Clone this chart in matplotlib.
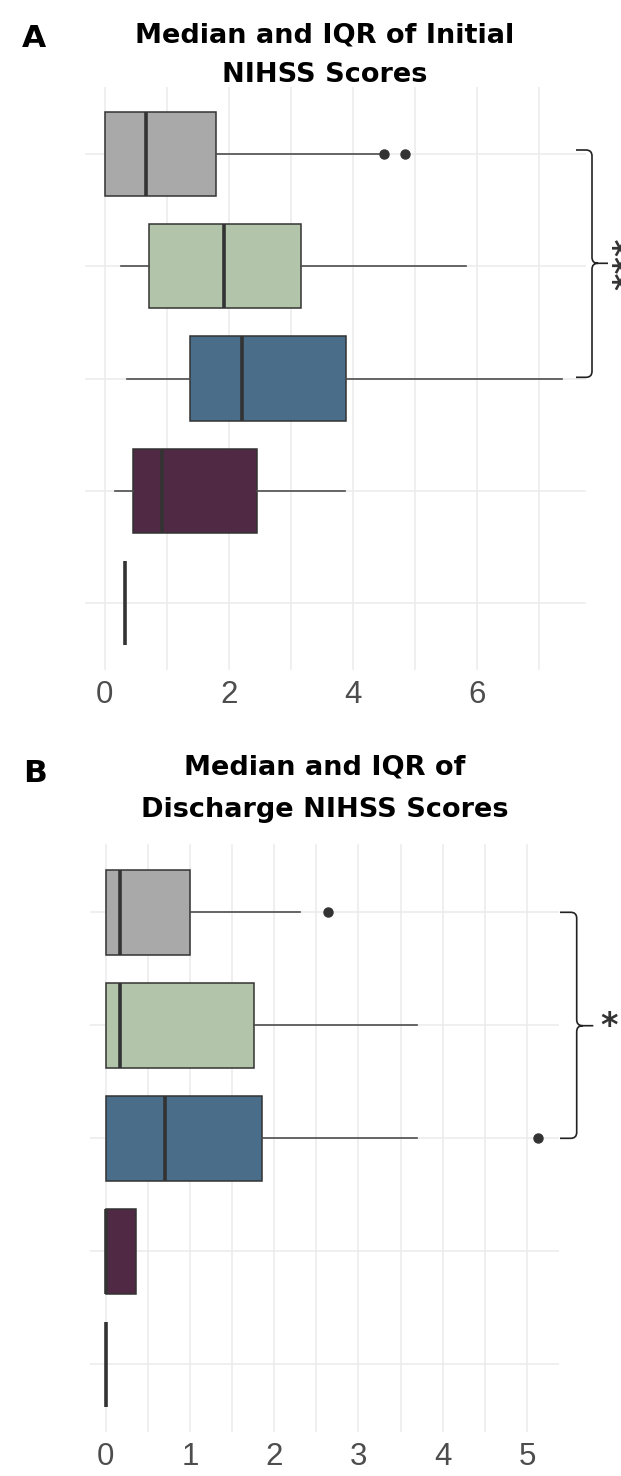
import numpy as np
import matplotlib.pyplot as plt
from matplotlib.path import Path
from matplotlib.patches import PathPatch

plt.close('all')

W, H = 621, 1476          # figure size in pixels

# fill colour of each group, top to bottom
box_colors = ["#A9A9A9", "#B2C5AA", "#4A6E89", "#502A44", "#FFFFFF"]

# initial NIHSS scores (panel A)
init_q1 = [0.00, 0.72, 1.38, 0.46, 0.33]
init_med = [0.67, 1.93, 2.22, 0.92, 0.33]
init_q3 = [1.79, 3.17, 3.89, 2.46, 0.33]
init_lo = [0.00, 0.26, 0.36, 0.16, 0.33]
init_hi = [4.43, 5.82, 7.37, 3.87, 0.33]
init_out = [[4.51, 4.85], [], [], [], []]

# discharge NIHSS scores (panel B)
dis_q1 = [0.00, 0.00, 0.00, 0.00, 0.00]
dis_med = [0.17, 0.17, 0.70, 0.00, 0.00]
dis_q3 = [1.00, 1.76, 1.86, 0.36, 0.00]
dis_lo = [0.00, 0.00, 0.00, 0.00, 0.00]
dis_hi = [2.31, 3.69, 3.69, 0.36, 0.00]
dis_out = [[2.64], [], [5.13], [], []]

init_ticks = [0, 2, 4, 6]
dis_ticks = [0, 1, 2, 3, 4, 5]


def px(x0, y0, x1, y1):
    # pixel box (top-left origin) -> figure fraction rect
    return [x0 / W, 1 - y1 / H, (x1 - x0) / W, (y1 - y0) / H]


def panel(ax, q1, med, q3, lo, hi, out, xlim, major, minor):
    stats = [dict(q1=a, med=m, q3=b, whislo=l, whishi=h, fliers=f)
             for a, m, b, l, h, f in zip(q1, med, q3, lo, hi, out)]
    pos = np.arange(1, len(stats) + 1)
    bp = ax.bxp(stats, positions=pos, orientation='horizontal', widths=0.75,
                patch_artist=True, showcaps=False,
                boxprops=dict(edgecolor='#333333', linewidth=1.1),
                medianprops=dict(color='#333333', linewidth=2.6, solid_capstyle='butt'),
                whiskerprops=dict(color='#4D4D4D', linewidth=1.2),
                flierprops=dict(marker='o', markerfacecolor='#333333',
                                markeredgecolor='#333333', markersize=6.5))
    for patch, c in zip(bp['boxes'], box_colors):
        patch.set_facecolor(c)
    ax.set_xlim(*xlim)
    ax.set_ylim(5.6, 0.4)
    ax.set_yticks(pos)
    ax.set_yticklabels([])
    ax.set_xticks(major)
    ax.set_xticks(minor, minor=True)
    ax.set_axisbelow(True)
    ax.grid(which='both', color='#EBEBEB', linewidth=1.1)
    ax.tick_params(which='both', length=0)
    ax.tick_params(axis='x', labelsize=22.5, labelcolor='#4D4D4D', pad=7)
    for s in ax.spines.values():
        s.set_visible(False)
    for lab in ax.get_xticklabels():
        lab.set_fontfamily('Liberation Sans')


def brace(fig, x0, xv, xt, yt, ym, yb, r=6):
    P = lambda x, y: (x / W, 1 - y / H)
    verts = [P(x0, yt), P(xv - r, yt), P(xv, yt), P(xv, yt + r),
             P(xv, ym - r), P(xv, ym), P(xv + r, ym), P(xt, ym),
             P(xv + r, ym), P(xv, ym), P(xv, ym + r),
             P(xv, yb - r), P(xv, yb), P(xv - r, yb), P(x0, yb)]
    codes = [Path.MOVETO, Path.LINETO, Path.CURVE3, Path.CURVE3,
             Path.LINETO, Path.CURVE3, Path.CURVE3, Path.LINETO,
             Path.MOVETO, Path.CURVE3, Path.CURVE3,
             Path.LINETO, Path.CURVE3, Path.CURVE3, Path.LINETO]
    fig.add_artist(PathPatch(Path(verts, codes), fill=False, edgecolor='#222222',
                             linewidth=1.2, transform=fig.transFigure))


fig = plt.figure(figsize=(W / 100, H / 100), dpi=100)

axA = fig.add_axes(px(85, 87, 586, 670))
panel(axA, init_q1, init_med, init_q3, init_lo, init_hi, init_out,
      (-0.316, 7.76), init_ticks, [1, 3, 5, 7])

axB = fig.add_axes(px(89.6, 844.5, 559, 1432))
panel(axB, dis_q1, dis_med, dis_q3, dis_lo, dis_hi, dis_out,
      (-0.19, 5.38), dis_ticks, [0.5, 1.5, 2.5, 3.5, 4.5])

# titles and panel letters
tfont = dict(fontfamily='DejaVu Sans', fontweight='bold', fontsize=19.5,
             ha='center', va='baseline', color='black')
fig.text(325 / W, 1 - 42.5 / H, 'Median and IQR of Initial', **tfont)
fig.text(325 / W, 1 - 82 / H, 'NIHSS Scores', **tfont)
fig.text(325 / W, 1 - 774 / H, 'Median and IQR of', **tfont)
fig.text(325 / W, 1 - 817 / H, 'Discharge NIHSS Scores', **tfont)
fig.text(34 / W, 1 - 47 / H, 'A', fontfamily='DejaVu Sans', fontweight='bold',
         fontsize=22.5, ha='center', va='baseline')
fig.text(34.7 / W, 1 - 782 / H, 'B', fontfamily='DejaVu Sans', fontweight='bold',
         fontsize=22.5, ha='center', va='baseline')

# significance brackets
brace(fig, 576, 592, 608, 150, 263.3, 377.3)
brace(fig, 560, 576.7, 593.3, 912.3, 1025.7, 1138.3)
fig.text(628 / W, 1 - 263.3 / H, '***', rotation=90, fontsize=24,
         fontweight='bold', ha='center', va='center', color='#333333')
fig.text(609.5 / W, 1 - 1026.7 / H, '*', fontsize=24, fontweight='bold',
         ha='center', va='center', color='#333333')

fig.savefig('out.png', dpi=100)
